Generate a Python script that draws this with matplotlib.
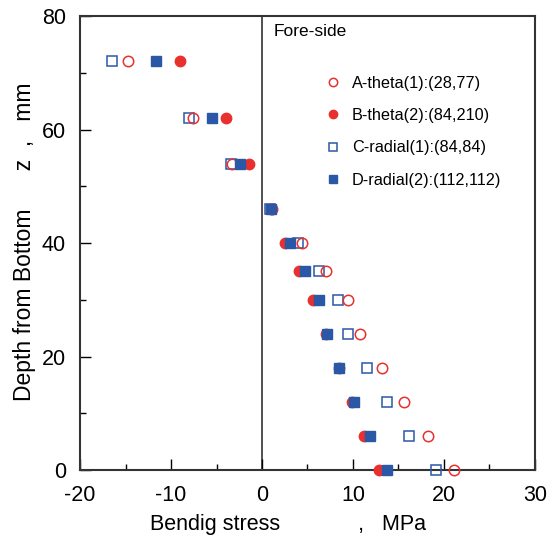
import matplotlib
matplotlib.use("Agg")
import matplotlib.pyplot as plt
from matplotlib.ticker import MultipleLocator

plt.rcParams['font.family'] = ['Liberation Sans', 'DejaVu Sans']
plt.rcParams['axes.unicode_minus'] = False

# depth levels (mm) and bending stress (MPa) for each specimen
depth = [72, 62, 54, 46, 40, 35, 30, 24, 18, 12, 6, 0]
a_theta = [-14.7, -7.6, -3.25, 1.1, 4.35, 7.0, 9.4, 10.8, 13.2, 15.6, 18.2, 21.1]
b_theta = [-9.0, -4.0, -1.4, 1.0, 2.5, 4.05, 5.65, 7.05, 8.45, 9.85, 11.25, 12.9]
c_radial = [-16.5, -8.0, -3.4, 0.9, 4.0, 6.25, 8.3, 9.5, 11.5, 13.7, 16.1, 19.1]
d_radial = [-11.6, -5.5, -2.4, 1.0, 3.1, 4.7, 6.25, 7.1, 8.5, 10.1, 11.85, 13.7]

labels = ["A-theta(1):(28,77)", "B-theta(2):(84,210)",
          "C-radial(1):(84,84)", "D-radial(2):(112,112)"]

red = "#e8302f"
blue = "#2b57a7"

fig = plt.figure(figsize=(5.56, 5.39), dpi=100)
ax = fig.add_axes([0.1439, 0.128, 0.8183, 0.8423])

ax.plot(c_radial, depth, "s", ms=7.5, mfc="none", mec=blue, mew=1.1, label=labels[2], zorder=3, clip_on=False)
ax.plot(a_theta, depth, "o", ms=7.5, mfc="none", mec=red, mew=1.1, label=labels[0], zorder=4, clip_on=False)
ax.plot(b_theta, depth, "o", ms=7.5, mfc=red, mec=red, label=labels[1], zorder=5, clip_on=False)
ax.plot(d_radial, depth, "s", ms=7.5, mfc=blue, mec=blue, label=labels[3], zorder=6, clip_on=False)

ax.axvline(0, color="#333333", lw=1.2, zorder=1)

ax.set_xlim(-20, 30)
ax.set_ylim(0, 80)
ax.xaxis.set_major_locator(MultipleLocator(10))
ax.xaxis.set_minor_locator(MultipleLocator(5))
ax.yaxis.set_major_locator(MultipleLocator(20))
ax.yaxis.set_minor_locator(MultipleLocator(10))
ax.tick_params(which="both", direction="in", width=1.0, labelsize=15.5)
ax.tick_params(which="major", length=8)
ax.tick_params(which="minor", length=4)
ax.tick_params(axis="x", pad=11)
ax.tick_params(axis="y", pad=10)
for s in ax.spines.values():
    s.set_linewidth(1.5)
    s.set_color("#333333")

ax.text(0.458, -0.121, "Bendig stress             ,   MPa", fontsize=15.5,
        ha="center", va="center", transform=ax.transAxes)
ax.text(-0.121, 0.502, "Depth from Bottom      z  ,   mm", fontsize=16.5,
        ha="center", va="center", rotation=90, transform=ax.transAxes)

ax.text(1.3, 77.2, "Fore-side", fontsize=12.5, va="center", ha="left")

handles, labs = ax.get_legend_handles_labels()
order = [1, 2, 0, 3]
ax.legend([handles[i] for i in order], [labs[i] for i in order],
          loc="upper left", bbox_to_anchor=(0.531, 0.868), frameon=False,
          fontsize=11.7, handlelength=1.4, handletextpad=0.47, labelspacing=1.06,
          borderpad=0, borderaxespad=0, numpoints=1, markerscale=0.8)

fig.savefig("out.png", dpi=100)
